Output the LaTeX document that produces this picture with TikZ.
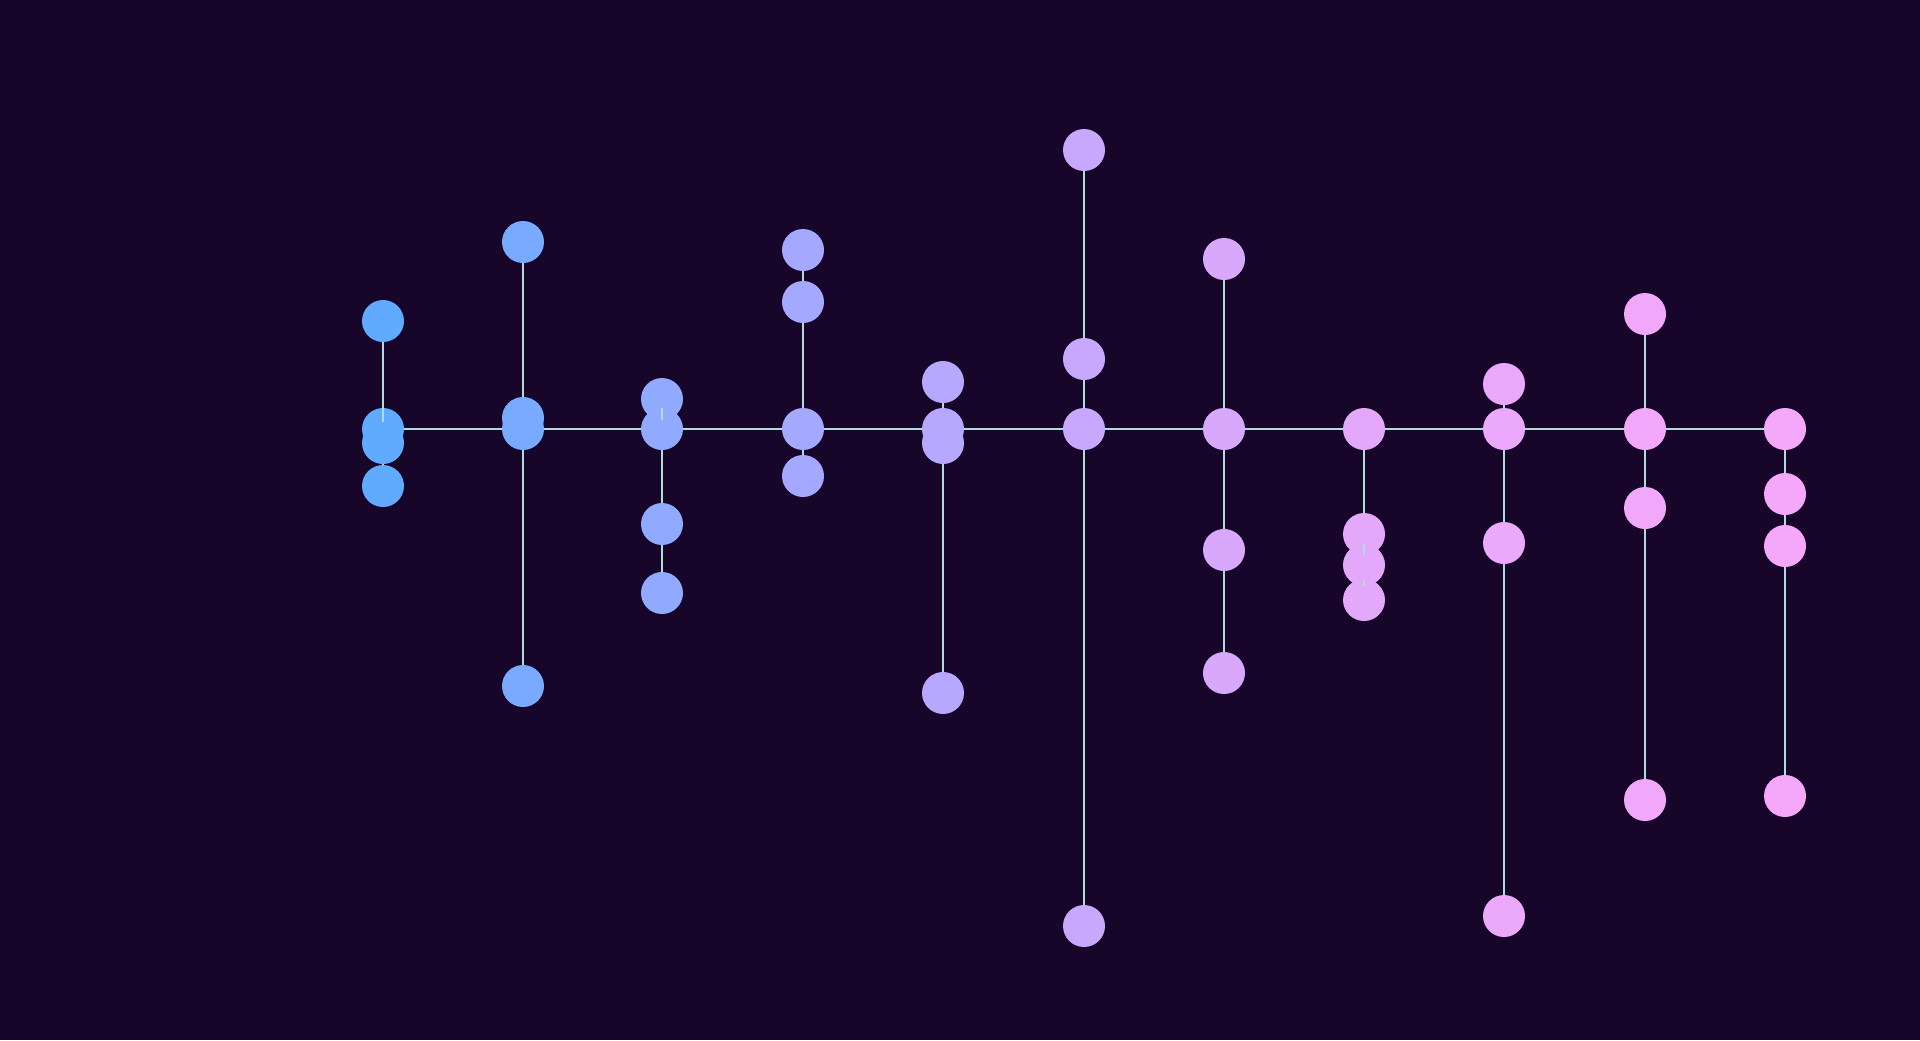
\documentclass[tikz,border=0pt]{standalone}
\definecolor{bgc}{HTML}{170629}
\definecolor{edgec}{HTML}{B0DCDC}
\definecolor{ca}{HTML}{60AAFF}
\definecolor{cb}{HTML}{78AAFF}
\definecolor{cc}{HTML}{90AAFF}
\definecolor{cd}{HTML}{A4A9FF}
\definecolor{ce}{HTML}{B6A8FF}
\definecolor{cf}{HTML}{C8A8FD}
\definecolor{cg}{HTML}{D8A8FC}
\definecolor{ch}{HTML}{E4A8FA}
\definecolor{ci}{HTML}{ECA8FA}
\definecolor{cj}{HTML}{F2A8FA}
\definecolor{ck}{HTML}{F5A8FA}
\tikzset{
  dot/.style={circle,inner sep=0pt,minimum size=21pt,draw=none},
  link/.style={draw=edgec,line width=1pt}
}
\begin{document}
\begin{tikzpicture}[x=0.5pt,y=-0.5pt]
\fill[bgc] (0,0) rectangle (1920,1040);
\useasboundingbox (0,0) rectangle (1920,1040);
% column 1
\coordinate (pa) at (383,429);
\coordinate (pb) at (523,429);
\coordinate (pc) at (662,429);
\coordinate (pd) at (803,429);
\coordinate (pe) at (943,429);
\coordinate (pf) at (1084,429);
\coordinate (pg) at (1224,429);
\coordinate (ph) at (1364,429);
\coordinate (pi) at (1504,429);
\coordinate (pj) at (1645,429);
\coordinate (pk) at (1785,429);
% nodes (drawn after edges via layers order below)
\begin{scope}
\node[dot,fill=ca] (a1) at (383,321) {};
\node[dot,fill=ca] (a0) at (pa) {};
\node[dot,fill=ca] (a2) at (383,443) {};
\node[dot,fill=ca] (a3) at (383,486) {};
\node[dot,fill=cb] (b1) at (523,242) {};
\node[dot,fill=cb] (b2) at (523,418) {};
\node[dot,fill=cb] (b0) at (pb) {};
\node[dot,fill=cb] (b3) at (523,686) {};
\node[dot,fill=cc] (c1) at (662,399) {};
\node[dot,fill=cc] (c0) at (pc) {};
\node[dot,fill=cc] (c2) at (662,524) {};
\node[dot,fill=cc] (c3) at (662,593) {};
\node[dot,fill=cd] (d1) at (803,250) {};
\node[dot,fill=cd] (d2) at (803,302) {};
\node[dot,fill=cd] (d0) at (pd) {};
\node[dot,fill=cd] (d3) at (803,476) {};
\node[dot,fill=ce] (e1) at (943,382) {};
\node[dot,fill=ce] (e0) at (pe) {};
\node[dot,fill=ce] (e2) at (943,443) {};
\node[dot,fill=ce] (e3) at (943,693) {};
\node[dot,fill=cf] (f1) at (1084,150) {};
\node[dot,fill=cf] (f2) at (1084,359) {};
\node[dot,fill=cf] (f0) at (pf) {};
\node[dot,fill=cf] (f3) at (1084,926) {};
\node[dot,fill=cg] (g1) at (1224,259) {};
\node[dot,fill=cg] (g0) at (pg) {};
\node[dot,fill=cg] (g2) at (1224,550) {};
\node[dot,fill=cg] (g3) at (1224,673) {};
\node[dot,fill=ch] (h0) at (ph) {};
\node[dot,fill=ch] (h1) at (1364,534) {};
\node[dot,fill=ch] (h2) at (1364,565) {};
\node[dot,fill=ch] (h3) at (1364,600) {};
\node[dot,fill=ci] (i1) at (1504,384) {};
\node[dot,fill=ci] (i0) at (pi) {};
\node[dot,fill=ci] (i2) at (1504,543) {};
\node[dot,fill=ci] (i3) at (1504,916) {};
\node[dot,fill=cj] (j1) at (1645,314) {};
\node[dot,fill=cj] (j0) at (pj) {};
\node[dot,fill=cj] (j2) at (1645,508) {};
\node[dot,fill=cj] (j3) at (1645,800) {};
\node[dot,fill=ck] (k0) at (pk) {};
\node[dot,fill=ck] (k1) at (1785,494) {};
\node[dot,fill=ck] (k2) at (1785,546) {};
\node[dot,fill=ck] (k3) at (1785,796) {};
\end{scope}
% edges
\draw[link] (a0) -- (b0) (b0) -- (c0) (c0) -- (d0) (d0) -- (e0) (e0) -- (f0)
  (f0) -- (g0) (g0) -- (h0) (h0) -- (i0) (i0) -- (j0) (j0) -- (k0);
\draw[link] (a1) -- (a0) (a0) -- (a2) (a2) -- (a3);
\draw[link] (b1) -- (b2) (b0) -- (b3);
\draw[link] (c1) -- (c0) (c0) -- (c2) (c2) -- (c3);
\draw[link] (d1) -- (d2) (d2) -- (d0) (d0) -- (d3);
\draw[link] (e1) -- (e0) (e2) -- (e3);
\draw[link] (f1) -- (f2) (f2) -- (f0) (f0) -- (f3);
\draw[link] (g1) -- (g0) (g0) -- (g2) (g2) -- (g3);
\draw[link] (h0) -- (h1) (h1) -- (h2) (h2) -- (h3);
\draw[link] (i1) -- (i0) (i0) -- (i2) (i2) -- (i3);
\draw[link] (j1) -- (j0) (j0) -- (j2) (j2) -- (j3);
\draw[link] (k0) -- (k1) (k1) -- (k2) (k2) -- (k3);
\end{tikzpicture}
\end{document}
